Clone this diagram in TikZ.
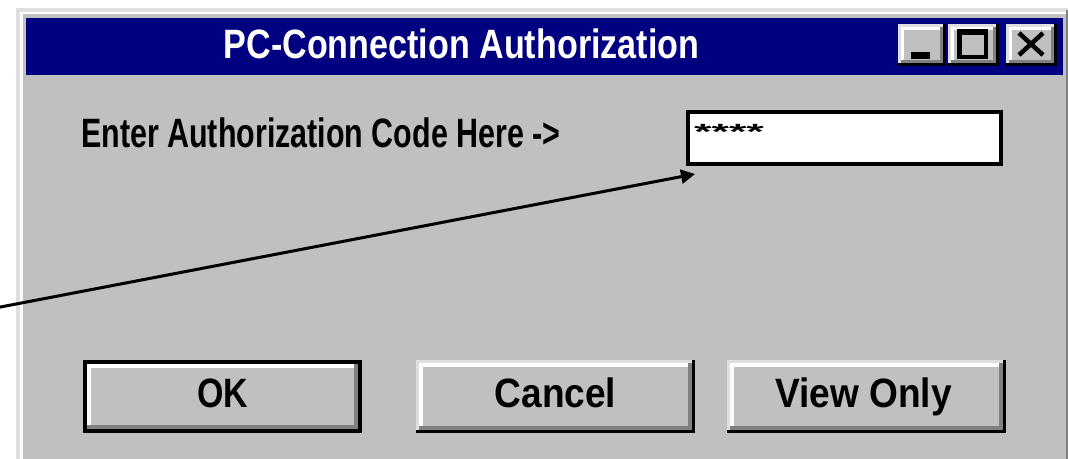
\documentclass[tikz,border=0pt]{standalone}
\usepackage{fontspec}
\setmainfont{Liberation Sans}
\usetikzlibrary{calc,arrows.meta}
\definecolor{wface}{HTML}{C0C0C0}
\definecolor{wlight}{HTML}{DFDFDF}
\definecolor{wdark}{HTML}{808080}
\definecolor{wnavy}{HTML}{000080}
\newcommand\bevelraised[3]{%
  \fill[black] (#1) rectangle (#2);
  \fill[wlight] (#1) rectangle ($(#2)+(-#3,-#3)$);
  \fill[wdark] ($(#1)+(#3,#3)$) rectangle ($(#2)+(-#3,-#3)$);
  \fill[white] ($(#1)+(#3,#3)$) rectangle ($(#2)+(-2*#3,-2*#3)$);
  \fill[wface] ($(#1)+(2*#3,2*#3)$) rectangle ($(#2)+(-2*#3,-2*#3)$);}
\newcommand\beveldefault[3]{%
  \fill[black] (#1) rectangle (#2);
  \fill[wdark] ($(#1)+(#3,#3)$) rectangle ($(#2)+(-#3,-#3)$);
  \fill[white] ($(#1)+(#3,#3)$) rectangle ($(#2)+(-2*#3,-2*#3)$);
  \fill[wface] ($(#1)+(2*#3,2*#3)$) rectangle ($(#2)+(-2*#3,-2*#3)$);}
\tikzset{
  uitext/.style={inner sep=0pt, font=\fontsize{41}{46}\selectfont\bfseries},
  btnframe/.style={inner sep=0pt, minimum width=279pt, minimum height=73pt},
  capbtn/.style={inner sep=0pt, minimum width=48pt, minimum height=42pt},
  fieldbox/.style={draw=black, line width=4pt, fill=white, inner sep=0pt,
    minimum width=313pt, minimum height=52pt},
  ptr/.style={line width=3pt, -{Triangle[length=14pt,width=14pt]}}
}
\begin{document}
\begin{tikzpicture}[x=1pt,y=-1pt]
\useasboundingbox (0,0) rectangle (1068,458);
% window frame
\fill[wlight] (16,8) rectangle (1075,470);
\fill[white] (20,12) rectangle (1075,470);
\fill[wdark] (1066,10) rectangle (1075,470);
\fill[wface] (23,14) rectangle (1066,470);
% title bar
\fill[wnavy] (26,18) rectangle (1063,75);
\node[uitext, text=white, anchor=base] (title) at (461.5,58)
  {\scalebox{0.832}[1]{PC-Connection Authorization}};
% caption buttons
\node[capbtn] (minb) at (922,45) {};
\node[capbtn, minimum width=51pt] (maxb) at (973.5,45) {};
\node[capbtn, minimum width=51pt] (closeb) at (1031.5,45) {};
\bevelraised{minb.north west}{minb.south east}{3}
\bevelraised{maxb.north west}{maxb.south east}{3}
\bevelraised{closeb.north west}{closeb.south east}{3}
\fill[black] (911,52) rectangle (930,59);
\fill[black] (957,29) rectangle (988,59);
\fill[wface] (962,35) rectangle (984,55);
\draw[line width=4.5pt] (1019,33) -- (1043,55) (1043,33) -- (1019,55);
% prompt and field
\node[uitext, anchor=base west] (prompt) at (81,147)
  {\scalebox{0.742}[1]{Enter Authorization Code Here ->}};
\node[fieldbox] (field) at (844.5,138) {};
\node[inner sep=0pt, anchor=north west, font=\fontsize{40}{44}\selectfont\bfseries]
  (stars) at (694,124) {\scalebox{1.12}[0.55]{****}};
% pointer
\coordinate (src) at (-10,309);
\coordinate (tip) at ($(field.south west)+(9,8)$);
\draw[ptr] (src) -- (tip);
% buttons
\node[btnframe] (ok) at (222.5,396.5) {};
\node[btnframe] (cancel) at (555.5,396.5) {};
\node[btnframe] (view) at (866.5,396.5) {};
\beveldefault{ok.north west}{ok.south east}{4}
\bevelraised{cancel.north west}{cancel.south east}{3.5}
\bevelraised{view.north west}{view.south east}{3.5}
\node[uitext, anchor=base] (oktext) at ($(ok.center)+(0,10.5)$) {\scalebox{0.828}[1]{OK}};
\node[uitext, anchor=base] (canceltext) at ($(cancel.center)+(0,10.5)$) {\scalebox{0.904}[1]{Cancel}};
\node[uitext, anchor=base] (viewtext) at ($(view.center)+(-3,10.5)$) {\scalebox{0.904}[1]{View Only}};
\end{tikzpicture}
\end{document}
